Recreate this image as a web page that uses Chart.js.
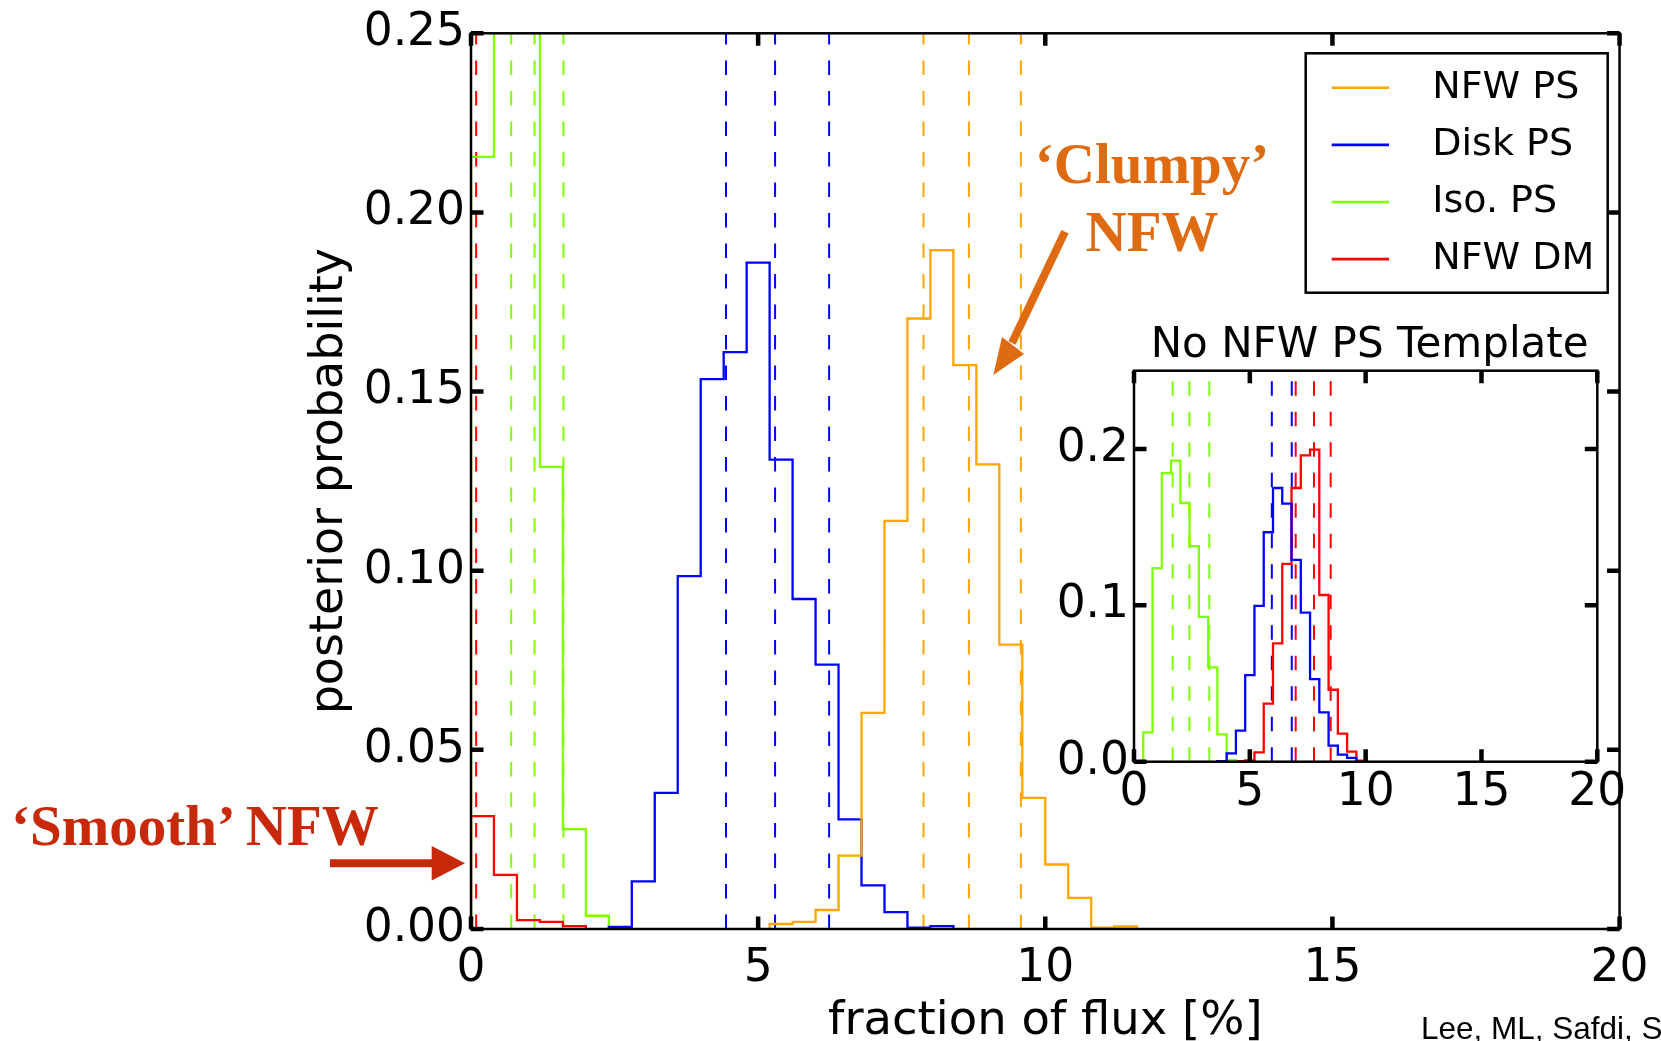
<!DOCTYPE html>
<html>
<head>
<meta charset="utf-8">
<title>Posterior probability vs fraction of flux</title>
<script src="https://cdn.jsdelivr.net/npm/chart.js@4.4.1/dist/chart.umd.min.js"></script>
<style>
html, body { margin:0; padding:0; background:#fff; }
#stage { position:relative; width:1661px; height:1041px; overflow:hidden; background:#fff; }
#mainChart { position:absolute; left:0; top:0; }
#insetChart { position:absolute; left:980px; top:290px; }
#arrows { position:absolute; left:0; top:0; pointer-events:none; }
.note { position:absolute; font-family:'Liberation Serif','Times New Roman',serif; font-weight:bold; font-size:57px; line-height:68px; white-space:nowrap; }
#clumpy { left:952px; top:130px; width:400px; text-align:center; color:#DE6B12; }
#smooth { left:11px; top:792px; color:#C8290A; }
#credit { position:absolute; left:1421px; top:1013px; font-family:'Liberation Sans',Arial,sans-serif; font-size:31.5px; line-height:31.5px; white-space:nowrap; color:#000; }
</style>
</head>
<body>
<div id="stage">
  <canvas id="mainChart" width="1661" height="1041" style="width:1661px;height:1041px"></canvas>
  <canvas id="insetChart" width="660" height="550" style="width:660px;height:550px"></canvas>
  <svg id="arrows" width="1661" height="1041" viewBox="0 0 1661 1041">
    <line x1="1065" y1="231.7" x2="1012" y2="343" stroke="#DE6B12" stroke-width="8"/>
    <polygon points="993.3,375 1002,337 1024,354" fill="#DE6B12"/>
    <line x1="330" y1="863.3" x2="434" y2="863.3" stroke="#C8290A" stroke-width="8"/>
    <polygon points="431.7,846 465,863.3 431.7,880.5" fill="#C8290A"/>
  </svg>
  <div id="clumpy" class="note">‘Clumpy’<br>NFW</div>
  <div id="smooth" class="note">‘Smooth’ NFW</div>
  <div id="credit">Lee, ML, Safdi, Slatyer</div>
</div>
<script>
// ---------------- data ----------------
const binEdges = [0.0,0.4,0.8,1.2,1.6,2.0,2.4,2.8,3.2,3.6,4.0,4.4,4.8,5.2,5.6,6.0,6.4,6.8,7.2,7.6,8.0,8.4,8.8,9.2,9.6,10.0,10.4,10.8,11.2,11.6,12.0];
const seriesNames = ['NFW PS','Disk PS','Iso. PS','NFW DM'];

// main panel histograms (first bin index into binEdges, then bin heights)
const mainNfwPsFirstBin = 13;
const mainNfwPs = [0.0014,0.0020,0.0053,0.0205,0.0603,0.1139,0.1704,0.1895,0.1574,0.1297,0.0794,0.0366,0.0180,0.0087,0.0004,0.0007];
const mainDiskPsFirstBin = 6;
const mainDiskPs = [0.0006,0.0133,0.0380,0.0985,0.1535,0.1610,0.1860,0.1310,0.0921,0.0738,0.0306,0.0122,0.0047,0.0004,0.0008];
const mainIsoPsFirstBin = 0;
const mainIsoPs = [0.2155,0.3400,0.3100,0.1290,0.0279,0.0037];
const mainNfwDmFirstBin = 0;
const mainNfwDm = [0.0315,0.0151,0.0025,0.0020,0.0008];

// main panel dashed percentile lines
const mainNfwPsLines = [7.88,8.67,9.575];
const mainDiskPsLines = [4.44,5.295,6.236];
const mainIsoPsLines = [0.70,1.106,1.61];
const mainNfwDmLines = [0.09];

// inset ("No NFW PS Template")
const insetDiskPsFirstBin = 9;
const insetDiskPs = [0.0003,0.0053,0.0199,0.0553,0.0996,0.1467,0.1750,0.1650,0.1290,0.0953,0.0528,0.0315,0.0103,0.0045,0.0025];
const insetIsoPsFirstBin = 1;
const insetIsoPs = [0.0187,0.1238,0.1845,0.1925,0.1654,0.1378,0.0926,0.0603,0.0175,0.0010];
const insetNfwDmFirstBin = 9;
const insetNfwDm = [0.0003,0.0003,0.0004,0.0008,0.0060,0.0371,0.0757,0.1265,0.1750,0.1958,0.1995,0.1066,0.0460,0.0180,0.0064,0.0006];
const insetDiskPsLines = [5.95,6.81];
const insetIsoPsLines = [1.67,2.39,3.25];
const insetNfwDmLines = [6.98,7.77,8.49];

// axes / ticks / text
const mainXTicks = [0,5,10,15,20];
const mainYTicks = [0,0.05,0.10,0.15,0.20,0.25];
const insetXTicks = [0,5,10,15,20];
const insetYTicks = [0,0.1,0.2];
const mainXRange = [0,20];
const mainYRange = [0,0.25];
const insetXRange = [0,20];
const insetYRange = [0,0.25];
const mainXTitle = 'fraction of flux [%]';
const mainYTitle = 'posterior probability';
const insetTitle = 'No NFW PS Template';

// ---------------- styles ----------------
const colors = { 'NFW PS':'#FFA500', 'Disk PS':'#0000FF', 'Iso. PS':'#7FFF00', 'NFW DM':'#FF0000' };
const HIST_W = 2.3, DASH_W = 2.0, DASH = [14.5,16];
const TICK_FONT = 45.5;

function stepPoints(firstBin, values) {
  const pts = [{x: binEdges[firstBin], y: 0}];
  values.forEach((v, i) => pts.push({x: binEdges[firstBin + i], y: v}));
  pts.push({x: binEdges[firstBin + values.length], y: 0});
  return pts;
}
function histDataset(name, firstBin, values) {
  return { label: name, data: stepPoints(firstBin, values), showLine: true, stepped: true,
           borderColor: colors[name], borderWidth: HIST_W, pointRadius: 0, fill: false };
}
function lineDatasets(name, xs, yRange) {
  return xs.map(x => ({ label: name + ' band', data: [{x: x, y: yRange[0]}, {x: x, y: yRange[1]}],
    showLine: true, borderColor: colors[name], borderWidth: DASH_W, borderDash: DASH, pointRadius: 0, fill: false }));
}

Chart.defaults.font.family = "'DejaVu Sans', sans-serif";
Chart.defaults.color = '#000';

const frameTicks = {
  id: 'frameTicks',
  afterDatasetsDraw(chart, args, o) {
    const {ctx, chartArea: a} = chart;
    const sx = chart.scales.x, sy = chart.scales.y;
    ctx.save();
    ctx.strokeStyle = '#000';
    ctx.lineWidth = o.tickWidth;
    ctx.beginPath();
    sx.ticks.forEach(t => {
      const p = sx.getPixelForValue(t.value);
      ctx.moveTo(p, a.bottom); ctx.lineTo(p, a.bottom - o.tickLen);
      ctx.moveTo(p, a.top); ctx.lineTo(p, a.top + o.tickLen);
    });
    sy.ticks.forEach(t => {
      const p = sy.getPixelForValue(t.value);
      ctx.moveTo(a.left, p); ctx.lineTo(a.left + o.tickLen, p);
      ctx.moveTo(a.right, p); ctx.lineTo(a.right - o.tickLen, p);
    });
    ctx.stroke();
    ctx.lineWidth = o.frameWidth;
    ctx.strokeRect(a.left, a.top, a.right - a.left, a.bottom - a.top);
    ctx.restore();
  }
};

const boxLegend = {
  id: 'boxLegend',
  afterDraw(chart, args, o) {
    if (!o.show) return;
    const ctx = chart.ctx;
    ctx.save();
    ctx.fillStyle = '#fff';
    ctx.fillRect(o.x, o.y, o.w, o.h);
    ctx.strokeStyle = '#000'; ctx.lineWidth = 2.5;
    ctx.strokeRect(o.x, o.y, o.w, o.h);
    ctx.font = o.fontSize + "px 'DejaVu Sans'";
    ctx.textBaseline = 'middle'; ctx.textAlign = 'left';
    seriesNames.forEach((n, i) => {
      const yy = o.y + o.firstRow + i * o.rowGap;
      ctx.strokeStyle = colors[n]; ctx.lineWidth = 2.6;
      ctx.beginPath(); ctx.moveTo(o.x + o.lineStart, yy); ctx.lineTo(o.x + o.lineEnd, yy); ctx.stroke();
      ctx.fillStyle = '#000';
      ctx.fillText(n, o.x + o.textX, yy);
    });
    ctx.restore();
  }
};

const topTitle = {
  id: 'topTitle',
  afterDraw(chart, args, o) {
    if (!o.text) return;
    const {ctx, chartArea: a} = chart;
    ctx.save();
    ctx.font = o.fontSize + "px 'DejaVu Sans'";
    ctx.fillStyle = '#000'; ctx.textAlign = 'center'; ctx.textBaseline = 'alphabetic';
    ctx.fillText(o.text, (a.left + a.right) / 2 + o.dx, a.top - o.gap);
    ctx.restore();
  }
};

const mainDatasets = [
  histDataset('NFW PS', mainNfwPsFirstBin, mainNfwPs),
  histDataset('Disk PS', mainDiskPsFirstBin, mainDiskPs),
  histDataset('Iso. PS', mainIsoPsFirstBin, mainIsoPs),
  histDataset('NFW DM', mainNfwDmFirstBin, mainNfwDm),
  ...lineDatasets('NFW PS', mainNfwPsLines, mainYRange),
  ...lineDatasets('Disk PS', mainDiskPsLines, mainYRange),
  ...lineDatasets('Iso. PS', mainIsoPsLines, mainYRange),
  ...lineDatasets('NFW DM', mainNfwDmLines, mainYRange)
];

new Chart(document.getElementById('mainChart'), {
  type: 'scatter',
  data: { datasets: mainDatasets },
  options: {
    responsive: false, animation: false, devicePixelRatio: 1,
    layout: { padding: { left: 307, right: 35.5, top: 33.3, bottom: 0 } },
    plugins: {
      legend: { display: false }, tooltip: { enabled: false },
      frameTicks: { tickLen: 12.5, tickWidth: 4.5, frameWidth: 2.5 },
      boxLegend: { show: true, x: 1305.7, y: 53.3, w: 302, h: 239.4, firstRow: 34.5, rowGap: 57.1,
                   lineStart: 26, lineEnd: 83.3, textX: 126.6, fontSize: 38 },
      topTitle: { text: '' }
    },
    scales: {
      x: { type: 'linear', min: mainXRange[0], max: mainXRange[1],
           afterBuildTicks: s => { s.ticks = mainXTicks.map(v => ({ value: v })); },
           afterFit: s => { s.height = 112; },
           grid: { display: false, drawTicks: false }, border: { display: false },
           ticks: { padding: 12.5, maxRotation: 0, autoSkip: false, font: { size: TICK_FONT }, color: '#000',
                    callback: v => String(v) },
           title: { display: true, text: mainXTitle, font: { size: 46.5, lineHeight: 0.82 }, padding: 0, color: '#000' } },
      y: { type: 'linear', min: mainYRange[0], max: mainYRange[1],
           afterBuildTicks: s => { s.ticks = mainYTicks.map(v => ({ value: v })); },
           afterFit: s => { s.width = 164; },
           grid: { display: false, drawTicks: false }, border: { display: false },
           ticks: { padding: 6, autoSkip: false, font: { size: TICK_FONT }, color: '#000',
                    callback: v => Number(v).toFixed(2) },
           title: { display: true, text: mainYTitle, font: { size: 46, lineHeight: 1 }, padding: 0, color: '#000' } }
    }
  },
  plugins: [frameTicks, boxLegend, topTitle]
});

const insetDatasets = [
  histDataset('Disk PS', insetDiskPsFirstBin, insetDiskPs),
  histDataset('Iso. PS', insetIsoPsFirstBin, insetIsoPs),
  histDataset('NFW DM', insetNfwDmFirstBin, insetNfwDm),
  ...lineDatasets('Disk PS', insetDiskPsLines, insetYRange),
  ...lineDatasets('Iso. PS', insetIsoPsLines, insetYRange),
  ...lineDatasets('NFW DM', insetNfwDmLines, insetYRange)
];

new Chart(document.getElementById('insetChart'), {
  type: 'scatter',
  data: { datasets: insetDatasets },
  options: {
    responsive: false, animation: false, devicePixelRatio: 1,
    layout: { padding: { left: 54, right: 42.7, top: 80.7, bottom: 0 } },
    plugins: {
      legend: { display: false }, tooltip: { enabled: false },
      frameTicks: { tickLen: 12.5, tickWidth: 4.5, frameWidth: 2.5 },
      boxLegend: { show: false },
      topTitle: { text: insetTitle, fontSize: 42, gap: 14, dx: 4 }
    },
    scales: {
      x: { type: 'linear', min: insetXRange[0], max: insetXRange[1],
           afterBuildTicks: s => { s.ticks = insetXTicks.map(v => ({ value: v })); },
           afterFit: s => { s.height = 78.3; },
           grid: { display: false, drawTicks: false }, border: { display: false },
           ticks: { padding: 4.5, maxRotation: 0, autoSkip: false, font: { size: TICK_FONT }, color: '#000',
                    callback: v => String(v) } },
      y: { type: 'linear', min: insetYRange[0], max: insetYRange[1],
           afterBuildTicks: s => { s.ticks = insetYTicks.map(v => ({ value: v })); },
           afterFit: s => { s.width = 100; },
           grid: { display: false, drawTicks: false }, border: { display: false },
           ticks: { padding: 5, autoSkip: false, font: { size: TICK_FONT }, color: '#000',
                    callback: v => Number(v).toFixed(1) } }
    }
  },
  plugins: [frameTicks, boxLegend, topTitle]
});
</script>
</body>
</html>
